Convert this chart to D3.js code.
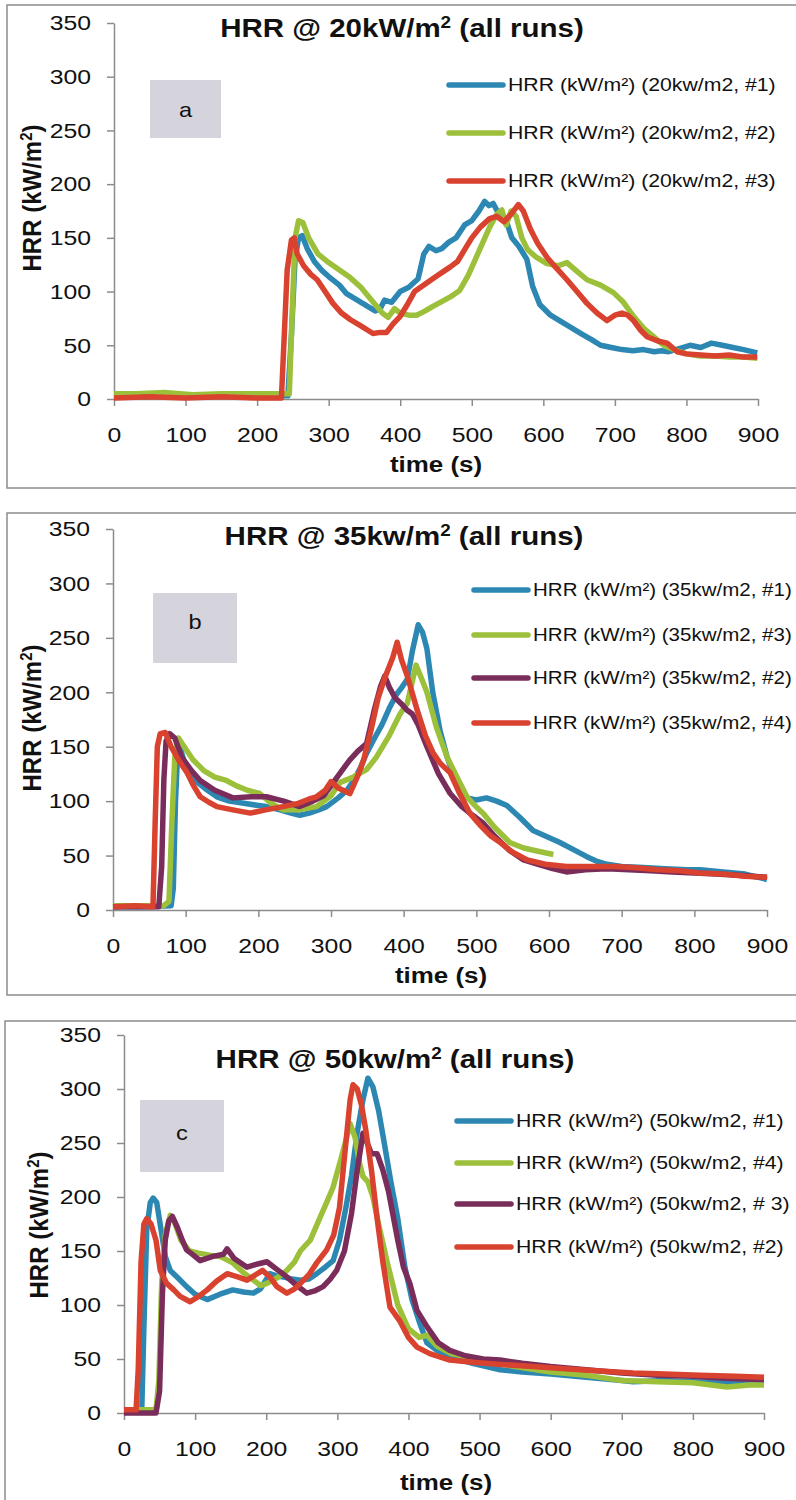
<!DOCTYPE html>
<html>
<head>
<meta charset="utf-8">
<script src="https://cdn.jsdelivr.net/npm/d3@7"></script>
<style>
body { margin: 0; background: #fff; }
svg { display: block; font-family: "Liberation Sans", Arial, sans-serif; }
</style>
</head>
<body>
<svg width="796" height="1500"></svg>
<script>
const xTicks = [0, 100, 200, 300, 400, 500, 600, 700, 800, 900];
const yTicks = [0, 50, 100, 150, 200, 250, 300, 350];

// panel a: 20 kW/m2, [time s, HRR kW/m2]
const a1 = [[0,3],[40,2],[80,4],[120,3],[160,3],[200,4],[243,3],[248,60],[253,130],[258,150],[263,152],[270,140],[280,128],[290,120],[300,114],[315,106],[325,98],[340,92],[355,86],[365,82],[372,84],[378,92],[388,90],[400,100],[412,104],[425,112],[433,135],[440,142],[450,138],[458,140],[468,146],[478,150],[490,162],[500,166],[510,175],[518,184],[524,180],[530,182],[538,172],[548,166],[556,150],[566,142],[577,130],[585,105],[595,88],[610,78],[625,72],[640,66],[655,60],[668,55],[680,50],[695,48],[710,46],[725,45],[740,46],[755,44],[765,45],[775,44],[790,47],[805,50],[820,48],[835,52],[850,50],[865,48],[880,46],[899,43]];
const a2 = [[0,5],[30,5],[70,6],[110,4],[150,5],[190,5],[230,5],[245,5],[249,80],[253,150],[258,166],[264,164],[272,150],[285,135],[300,127],[315,120],[330,113],[345,104],[360,92],[375,80],[383,76],[392,84],[400,80],[412,78],[423,78],[435,82],[445,86],[456,90],[470,95],[483,101],[495,115],[505,130],[515,145],[525,160],[535,172],[542,176],[548,162],[555,175],[562,170],[570,150],[578,139],[590,132],[605,126],[620,124],[633,127],[645,120],[661,111],[680,106],[698,99],[712,90],[726,77],[740,66],[754,58],[768,50],[782,46],[800,42],[819,40],[840,40],[860,39],[880,39],[899,38]];
const a3 = [[0,1],[50,2],[100,1],[150,2],[200,1],[234,1],[238,60],[242,120],[248,148],[252,150],[256,135],[265,124],[275,116],[284,111],[295,100],[306,89],[318,80],[330,74],[345,68],[362,61],[372,62],[381,62],[390,70],[400,77],[410,88],[420,100],[437,108],[450,114],[470,123],[480,128],[490,139],[500,150],[512,160],[525,168],[535,170],[545,165],[555,172],[565,181],[572,175],[582,158],[592,145],[605,132],[618,122],[633,111],[647,100],[661,89],[675,80],[689,73],[700,78],[710,80],[718,78],[726,73],[736,64],[745,58],[760,54],[773,52],[787,44],[800,42],[820,41],[840,40],[860,41],[880,39],[899,39]];

// panel b: 35 kW/m2
const b1 = [[0,3],[40,3],[80,4],[83,20],[86,100],[89,145],[93,148],[101,129],[115,118],[130,110],[143,104],[160,100],[180,98],[200,96],[211,95],[230,92],[245,89],[257,87],[270,89],[283,92],[294,95],[310,103],[322,110],[331,119],[340,130],[349,144],[360,158],[370,170],[380,185],[390,198],[398,205],[405,212],[412,238],[420,262],[426,255],[432,240],[440,200],[450,165],[460,140],[470,122],[480,110],[487,103],[500,101],[514,103],[528,100],[542,96],[560,85],[578,73],[595,68],[615,62],[635,55],[652,49],[665,45],[680,42],[700,40],[730,39],[760,38],[790,37],[808,37],[840,35],[870,33],[900,28]];
const b3 = [[0,4],[40,4],[70,4],[77,8],[81,80],[85,140],[90,158],[96,152],[110,138],[125,128],[140,122],[156,119],[170,114],[185,110],[202,107],[218,98],[234,92],[255,92],[280,95],[300,105],[312,117],[330,122],[349,129],[362,140],[380,160],[395,180],[405,190],[417,225],[425,212],[432,200],[445,168],[460,140],[475,120],[487,104],[498,96],[509,89],[525,76],[546,62],[565,57],[585,54],[606,51]];
const b2 = [[0,3],[40,3],[63,3],[67,40],[70,120],[73,155],[78,162],[85,158],[95,140],[108,128],[120,119],[140,110],[165,103],[190,104],[211,104],[235,100],[257,95],[275,100],[290,105],[303,117],[315,128],[326,138],[337,146],[349,153],[360,185],[368,205],[374,215],[380,205],[388,195],[396,190],[404,184],[412,180],[420,170],[432,150],[448,125],[464,107],[480,95],[495,87],[509,80],[525,68],[545,55],[565,46],[585,42],[605,38],[624,35],[650,37],[680,38],[710,37],[740,36],[770,35],[800,34],[830,33],[860,32],[900,30]];
const b4 = [[0,3],[30,4],[55,3],[58,80],[61,150],[65,162],[72,163],[80,150],[90,138],[102,126],[111,114],[120,104],[132,99],[143,95],[165,92],[189,89],[210,92],[234,95],[255,98],[270,102],[280,104],[292,110],[300,118],[310,112],[326,107],[338,125],[345,138],[355,165],[365,195],[375,215],[385,232],[391,246],[397,230],[405,215],[418,185],[430,160],[440,145],[450,135],[464,126],[477,107],[491,89],[505,78],[520,68],[533,62],[550,53],[570,46],[595,42],[624,40],[660,40],[690,40],[716,39],[750,37],[780,36],[808,34],[840,33],[870,31],[900,30]];

// panel c: 50 kW/m2
const c1 = [[0,3],[25,3],[28,80],[32,170],[37,195],[41,199],[46,195],[52,170],[58,145],[65,132],[76,125],[88,117],[100,110],[117,105],[135,110],[153,114],[168,112],[182,111],[192,115],[205,129],[215,127],[224,126],[236,124],[248,123],[260,124],[271,129],[283,135],[294,141],[303,160],[312,190],[320,220],[328,260],[336,290],[343,310],[350,302],[358,280],[366,250],[375,215],[385,180],[395,135],[405,105],[415,85],[426,65],[440,58],[460,52],[490,46],[529,40],[560,38],[600,36],[650,33],[700,30],[716,29],[760,30],[800,29],[850,28],[900,28]];
const c4 = [[0,3],[30,3],[45,3],[49,30],[53,120],[58,165],[65,183],[72,175],[80,160],[92,150],[105,148],[120,146],[135,145],[153,139],[168,130],[182,123],[192,118],[201,120],[215,125],[229,132],[240,140],[248,150],[262,160],[275,180],[285,195],[294,209],[305,235],[313,255],[318,268],[325,255],[331,232],[336,219],[343,214],[350,200],[358,175],[370,140],[385,100],[400,78],[415,70],[426,72],[440,62],[460,55],[482,52],[510,48],[550,43],[600,38],[650,35],[700,30],[750,29],[800,28],[848,24],[880,26],[900,26]];
const c3 = [[0,0],[45,0],[50,20],[54,110],[58,160],[63,178],[68,182],[75,172],[82,160],[88,151],[98,146],[107,141],[125,145],[140,147],[145,152],[155,143],[173,135],[188,138],[201,140],[215,133],[229,126],[243,118],[257,111],[268,113],[280,117],[290,124],[299,132],[310,150],[320,185],[328,225],[336,259],[342,250],[348,240],[356,240],[364,225],[372,205],[385,160],[393,135],[402,120],[412,95],[426,80],[442,65],[458,58],[480,53],[505,50],[529,49],[560,46],[600,43],[650,40],[700,37],[750,35],[800,34],[850,32],[900,31]];
const c2 = [[0,3],[17,3],[20,40],[24,140],[28,175],[32,180],[38,175],[45,160],[51,132],[60,120],[70,114],[79,108],[93,103],[105,108],[117,114],[130,122],[145,129],[160,126],[173,123],[185,128],[195,132],[205,126],[215,117],[229,111],[240,115],[248,120],[260,128],[271,139],[285,151],[295,165],[303,190],[312,250],[318,290],[322,304],[328,300],[334,285],[340,262],[348,225],[356,180],[364,140],[374,98],[388,85],[400,70],[412,61],[430,55],[458,49],[490,47],[530,45],[575,43],[620,41],[670,39],[716,37],[760,36],[810,35],[860,34],[900,33]];

const titles = ["20kW/m", "35kw/m", "50kw/m"];
const letters = ["a", "b", "c"];
const legendA = ["HRR (kW/m²) (20kw/m2, #1)", "HRR (kW/m²) (20kw/m2, #2)", "HRR (kW/m²) (20kw/m2, #3)"];
const legendB = ["HRR (kW/m²) (35kw/m2, #1)", "HRR (kW/m²) (35kw/m2, #3)", "HRR (kW/m²) (35kw/m2, #2)", "HRR (kW/m²) (35kw/m2, #4)"];
const legendC = ["HRR (kW/m²) (50kw/m2, #1)", "HRR (kW/m²) (50kw/m2, #4)", "HRR (kW/m²) (50kw/m2, # 3)", "HRR (kW/m²) (50kw/m2, #2)"];

const blue = "#2c88b3", green = "#9cc03a", purple = "#7a2d5a", red = "#d8422f";
const SX = 1.18; // the scan is stretched sideways

const panels = [
  { frame: [7, 5, 800, 488], x: [114, 758], y: [399, 23], title: [402, 37], ylab: [41, 198], xlab: [436, 472],
    box: [150, 80, 71, 58], letterY: 117, legend: { x: 449, y: [85, 133, 181], sx: SX },
    series: [a1, a2, a3], colors: [blue, green, red], labels: legendA },
  { frame: [7, 513, 800, 995], x: [113, 767], y: [910, 529], title: [404, 545], ylab: [41, 718], xlab: [441, 983],
    box: [153, 593, 84, 70], letterY: 629, legend: { x: 474, y: [590, 635, 678, 723], sx: 1.14 },
    series: [b1, b3, b2, b4], colors: [blue, green, purple, red], labels: legendB },
  { frame: [5, 1021, 800, 1520], x: [124, 764], y: [1413, 1035], title: [395, 1068], ylab: [48, 1225], xlab: [446, 1490],
    box: [140, 1100, 84, 72], letterY: 1140, legend: { x: 457, y: [1121, 1163, 1204, 1247], sx: SX },
    series: [c1, c4, c3, c2], colors: [blue, green, purple, red], labels: legendC }
];

const svg = d3.select("svg");

function stretchText(sel) {
  sel.each(function () {
    const t = d3.select(this);
    const x = +t.attr("x") || 0;
    t.attr("x", x / SX).attr("transform", `scale(${SX},1)`);
  });
}

panels.forEach((p, i) => {
  const g = svg.append("g");

  g.append("rect")
    .attr("x", p.frame[0]).attr("y", p.frame[1])
    .attr("width", p.frame[2] - p.frame[0]).attr("height", p.frame[3] - p.frame[1])
    .attr("fill", "none").attr("stroke", "#8c8c8c").attr("stroke-width", 1.5);

  const x = d3.scaleLinear().domain([0, 900]).range(p.x);
  const y = d3.scaleLinear().domain([0, 350]).range(p.y);

  const xAxis = g.append("g")
    .attr("transform", `translate(0,${p.y[0]})`)
    .call(d3.axisBottom(x).tickValues(xTicks).tickSize(7).tickPadding(21).tickSizeOuter(0));
  const yAxis = g.append("g")
    .attr("transform", `translate(${p.x[0]},0)`)
    .call(d3.axisLeft(y).tickValues(yTicks).tickSize(7).tickPadding(16).tickSizeOuter(0));

  [xAxis, yAxis].forEach(ax => {
    ax.select(".domain").attr("stroke", "#8c8c8c").attr("stroke-width", 1.5);
    ax.selectAll(".tick line").attr("stroke", "#8c8c8c").attr("stroke-width", 1.5);
    ax.selectAll(".tick text").attr("font-size", 21).attr("font-family", "Liberation Sans, Arial, sans-serif").attr("fill", "#111");
  });
  stretchText(xAxis.selectAll(".tick text"));
  stretchText(yAxis.selectAll(".tick text"));

  // title
  const title = g.append("text")
    .attr("transform", `translate(${p.title[0]},${p.title[1]}) scale(${SX},1)`)
    .attr("text-anchor", "middle").attr("font-size", 25).attr("font-weight", "bold").attr("fill", "#111");
  title.append("tspan").text("HRR @ " + titles[i]);
  title.append("tspan").attr("font-size", 16).attr("dy", -9).text("2");
  title.append("tspan").attr("dy", 9).text(" (all runs)");

  // y label
  const yl = g.append("text")
    .attr("transform", `translate(${p.ylab[0]},${p.ylab[1]}) scale(1.05,1) rotate(-90)`)
    .attr("text-anchor", "middle").attr("font-size", 24).attr("font-weight", "bold").attr("fill", "#111");
  yl.append("tspan").text("HRR (kW/m");
  yl.append("tspan").attr("font-size", 15).attr("dy", -9).text("2");
  yl.append("tspan").attr("dy", 9).text(")");

  // x label
  g.append("text")
    .attr("transform", `translate(${p.xlab[0]},${p.xlab[1]}) scale(${SX},1)`)
    .attr("text-anchor", "middle").attr("font-size", 22).attr("font-weight", "bold").attr("fill", "#111")
    .text("time (s)");

  // letter box
  g.append("rect")
    .attr("x", p.box[0]).attr("y", p.box[1]).attr("width", p.box[2]).attr("height", p.box[3])
    .attr("fill", "#d5d4dc");
  g.append("text")
    .attr("transform", `translate(${p.box[0] + p.box[2] / 2},${p.letterY}) scale(${SX},1)`)
    .attr("text-anchor", "middle").attr("font-size", 20).attr("fill", "#111")
    .text(letters[i]);

  // curves
  const line = d3.line().x(d => x(d[0])).y(d => y(d[1]));
  g.selectAll(".run")
    .data(p.series)
    .enter()
    .append("path")
    .attr("class", "run")
    .attr("d", line)
    .attr("fill", "none")
    .attr("stroke", (d, k) => p.colors[k])
    .attr("stroke-width", 5.5)
    .attr("stroke-linejoin", "round");

  // legend
  const items = g.selectAll(".leg")
    .data(p.labels)
    .enter()
    .append("g")
    .attr("class", "leg")
    .attr("transform", (d, k) => `translate(${p.legend.x},${p.legend.y[k]})`);
  items.append("line")
    .attr("x1", 0).attr("x2", 54)
    .attr("stroke", (d, k) => p.colors[k])
    .attr("stroke-width", 5.5).attr("stroke-linecap", "round");
  items.append("text")
    .attr("transform", `translate(59,6) scale(${p.legend.sx},1)`)
    .attr("font-size", 18).attr("fill", "#111")
    .text(d => d);
});
</script>
</body>
</html>
